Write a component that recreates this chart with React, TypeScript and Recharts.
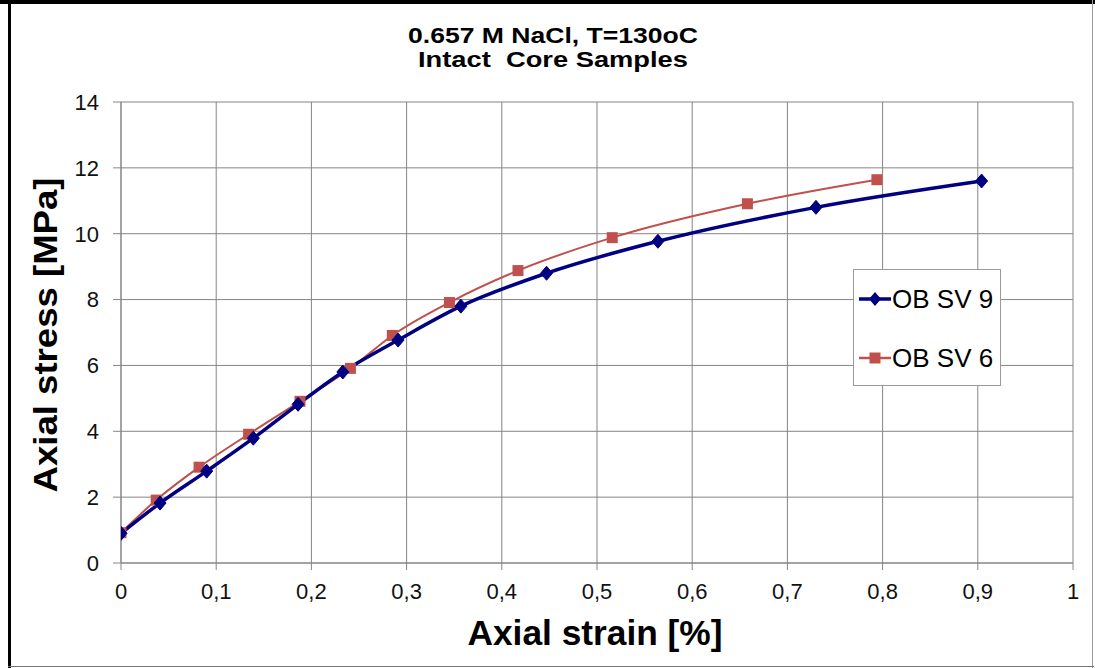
import React from "react";
import { LineChart, Line, XAxis, YAxis, CartesianGrid, Legend } from "recharts";

const xTicks = [0, 0.1, 0.2, 0.3, 0.4, 0.5, 0.6, 0.7, 0.8, 0.9, 1];
const yTicks = [0, 2, 4, 6, 8, 10, 12, 14];

const sv9Strain = [0, 0.041, 0.09, 0.139, 0.186, 0.233, 0.291, 0.357, 0.447, 0.564, 0.73, 0.904];
const sv9Stress = [0.9, 1.82, 2.79, 3.79, 4.82, 5.8, 6.77, 7.8, 8.8, 9.77, 10.8, 11.6];

const sv6Strain = [0, 0.037, 0.082, 0.134, 0.188, 0.241, 0.285, 0.345, 0.417, 0.516, 0.658, 0.794];
const sv6Stress = [0.92, 1.91, 2.91, 3.91, 4.91, 5.91, 6.91, 7.91, 8.88, 9.88, 10.91, 11.64];

const sv9 = sv9Strain.map((x, i) => ({ x, y: sv9Stress[i] }));
const sv6 = sv6Strain.map((x, i) => ({ x, y: sv6Stress[i] }));

const BLUE = "#000080";
const RED = "#C0504D";
const GRID = "#858585";
const FONT = '"Liberation Sans", Arial, sans-serif';

const Diamond = (props: any) => {
  const { cx, cy, index } = props;
  if (cx == null || cy == null) return null;
  return (
    <polygon
      key={`d-${index}`}
      points={`${cx},${cy - 7} ${cx + 6},${cy} ${cx},${cy + 7} ${cx - 6},${cy}`}
      fill={BLUE}
      stroke={BLUE}
    />
  );
};

const Square = (props: any) => {
  const { cx, cy, index } = props;
  if (cx == null || cy == null) return null;
  return <rect key={`s-${index}`} x={cx - 5.5} y={cy - 5.5} width={11} height={11} fill={RED} />;
};

const legendItems = [
  { name: "OB SV 9", color: BLUE, kind: "diamond" },
  { name: "OB SV 6", color: RED, kind: "square" },
];

const LegendBox = () => (
  <div
    style={{
      width: 148,
      height: 117,
      border: "1.5px solid #9a9a9a",
      background: "#fff",
      boxSizing: "border-box",
      position: "relative",
      fontFamily: FONT,
    }}
  >
    {legendItems.map((it, i) => (
      <div
        key={it.name}
        style={{
          position: "absolute",
          left: 4,
          top: i === 0 ? 14 : 73,
          display: "flex",
          alignItems: "center",
          height: 30,
        }}
      >
        <svg width={34} height={20}>
          <line x1={1} y1={10} x2={33} y2={10} stroke={it.color} strokeWidth={it.kind === "diamond" ? 3.5 : 2.5} />
          {it.kind === "diamond" ? (
            <polygon points="17,3 23,10 17,17 11,10" fill={it.color} />
          ) : (
            <rect x={11.5} y={4.5} width={11} height={11} fill={it.color} />
          )}
        </svg>
        <span style={{ fontSize: 26, color: "#000", lineHeight: "30px", whiteSpace: "nowrap" }}>{it.name}</span>
      </div>
    ))}
  </div>
);

const fmt = (v: number) => String(Math.round(v * 10) / 10).replace(".", ",");

export default function App() {
  return (
    <div style={{ position: "absolute", left: 0, top: 0, width: 1095, height: 668, background: "#fff" }}>
      <LineChart
        width={1095}
        height={668}
        margin={{ top: 102, right: 22, bottom: 20, left: 61 }}
        style={{ fontFamily: FONT }}
      >
        <CartesianGrid stroke={GRID} strokeWidth={1} />
        <XAxis
          type="number"
          dataKey="x"
          domain={[0, 1]}
          ticks={xTicks}
          tickFormatter={fmt}
          allowDataOverflow
          stroke={GRID}
          tickSize={7}
          tickMargin={13}
          height={85}
          tick={{ fill: "#111", fontSize: 22, fontFamily: FONT }}
          label={{
            content: () => (
              <text
                x={595}
                y={645}
                textAnchor="middle"
                textLength={255}
                lengthAdjust="spacingAndGlyphs"
                style={{ fontSize: 35, fontWeight: 700, fontFamily: FONT, fill: "#000" }}
              >
                Axial strain [%]
              </text>
            ),
          }}
        />
        <YAxis
          type="number"
          dataKey="y"
          domain={[0, 14]}
          ticks={yTicks}
          stroke={GRID}
          tickSize={8}
          tickMargin={14}
          width={60}
          tick={{ fill: "#111", fontSize: 22, fontFamily: FONT }}
          label={{
            content: () => (
              <text
                x={57}
                y={335}
                transform="rotate(-90 57 335)"
                textAnchor="middle"
                textLength={315}
                lengthAdjust="spacingAndGlyphs"
                style={{ fontSize: 34, fontWeight: 700, fontFamily: FONT, fill: "#000" }}
              >
                Axial stress [MPa]
              </text>
            ),
          }}
        />
        <Line
          data={sv6}
          dataKey="y"
          name="OB SV 6"
          type="monotone"
          stroke={RED}
          strokeWidth={2}
          dot={Square}
          activeDot={false}
          isAnimationActive={false}
        />
        <Line
          data={sv9}
          dataKey="y"
          name="OB SV 9"
          type="monotone"
          stroke={BLUE}
          strokeWidth={3.5}
          dot={Diamond}
          activeDot={false}
          isAnimationActive={false}
        />
        <Legend
          layout="horizontal"
          verticalAlign="middle"
          align="center"
          content={() => <LegendBox />}
          wrapperStyle={{ position: "absolute", left: 853, top: 269, width: 148, height: 117 }}
        />
        <text
          x={553}
          y={43}
          textAnchor="middle"
          textLength={290}
          lengthAdjust="spacingAndGlyphs"
          style={{ fontSize: 22, fontWeight: 700, fontFamily: FONT, fill: "#000" }}
        >
          0.657 M NaCl, T=130oC
        </text>
        <text
          x={553}
          y={67}
          textAnchor="middle"
          textLength={270}
          lengthAdjust="spacingAndGlyphs"
          style={{ fontSize: 22, fontWeight: 700, fontFamily: FONT, fill: "#000", whiteSpace: "pre" }}
        >
          {"Intact  Core Samples"}
        </text>
      </LineChart>
      <div style={{ position: "absolute", left: 0, top: 0, width: 1095, height: 4, background: "#000" }} />
      <div style={{ position: "absolute", left: 8, top: 0, width: 3, height: 668, background: "#000" }} />
      <div style={{ position: "absolute", left: 1092, top: 0, width: 1, height: 668, background: "#999" }} />
      <div style={{ position: "absolute", left: 8, top: 666, width: 1086, height: 1, background: "#777" }} />
    </div>
  );
}
